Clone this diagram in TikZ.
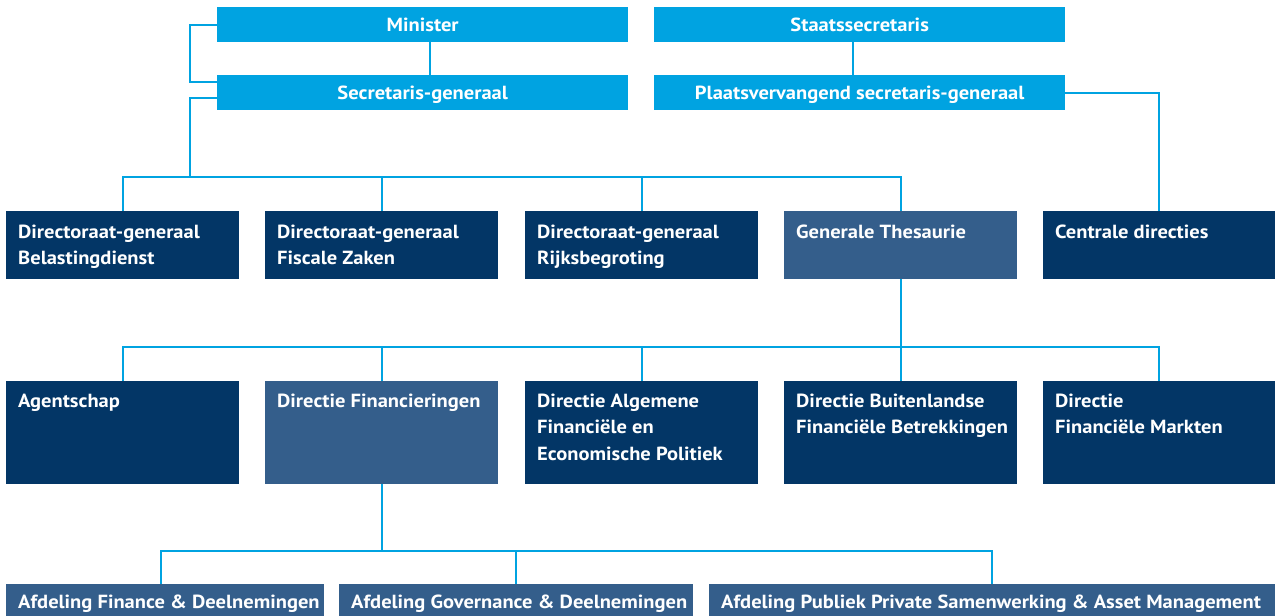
\documentclass[tikz,border=0pt]{standalone}
\usepackage{fontspec}
\setmainfont{PT Sans}[FakeStretch=1.08]
\usetikzlibrary{calc}
\definecolor{lb}{RGB}{0,163,225}
\definecolor{navy}{RGB}{3,54,102}
\definecolor{midb}{RGB}{52,94,139}
\newcommand\cellbox[4]{\vbox to #2{\hsize=#1\relax\leftskip=12pt\rightskip=0pt plus 1fil\parindent=0pt\parfillskip=0pt plus 1fil\baselineskip=26.7pt\lineskiplimit=-100pt\lineskip=0pt\rule{0pt}{#3}#4\par\vfil}}
\tikzset{
  boxfont/.style={font=\bfseries\fontsize{19}{22}\selectfont},
  topbox/.style={fill=lb, text=white, boxfont, inner sep=0pt, anchor=north west, minimum width=411pt, minimum height=35pt, text height=13pt, text depth=0pt},
  navybox/.style={fill=navy, text=white, boxfont, inner sep=0pt, anchor=north west},
  midbox/.style={fill=midb, text=white, boxfont, inner sep=0pt, anchor=north west},
  conn/.style={draw=lb, line width=2pt}
}
\begin{document}
\begin{tikzpicture}[x=1pt,y=-1pt]
\useasboundingbox (0,0) rectangle (1275,616);
% top level
\node[topbox] (min) at (217,7) {Minister};
\node[topbox] (sg) at (217,75) {Secretaris-generaal};
\node[topbox] (sts) at (654,7) {Staatssecretaris};
\node[topbox] (psg) at (654,75) {Plaatsvervangend secretaris-generaal};
% second row
\node[navybox] (dgb) at (6,211) {\cellbox{233pt}{68pt}{27pt}{Directoraat-generaal\newline Belastingdienst}};
\node[navybox] (dgf) at (265,211) {\cellbox{233pt}{68pt}{27pt}{Directoraat-generaal\newline Fiscale Zaken}};
\node[navybox] (dgr) at (525,211) {\cellbox{233pt}{68pt}{27pt}{Directoraat-generaal\newline Rijksbegroting}};
\node[midbox] (gt) at (784,211) {\cellbox{233pt}{68pt}{27pt}{Generale Thesaurie}};
\node[navybox] (cd) at (1043,211) {\cellbox{232pt}{68pt}{27pt}{Centrale directies}};
% third row
\node[navybox] (ag) at (6,381) {\cellbox{233pt}{103pt}{26pt}{Agentschap}};
\node[midbox] (df) at (265,381) {\cellbox{233pt}{103pt}{26pt}{Directie Financieringen}};
\node[navybox] (dafe) at (525,381) {\cellbox{233pt}{103pt}{26pt}{Directie Algemene\newline Financiële en\newline Economische Politiek}};
\node[navybox] (dbfb) at (784,381) {\cellbox{233pt}{103pt}{26pt}{Directie Buitenlandse\newline Financiële Betrekkingen}};
\node[navybox] (dfm) at (1043,381) {\cellbox{232pt}{103pt}{26pt}{Directie\newline Financiële Markten}};
% fourth row
\node[midbox] (afd) at (6,584) {\cellbox{318pt}{32pt}{24pt}{Afdeling Finance \& Deelnemingen}};
\node[midbox] (agd) at (339,584) {\cellbox{354pt}{32pt}{24pt}{Afdeling Governance \& Deelnemingen}};
\node[midbox] (app) at (709,584) {\cellbox{566pt}{32pt}{24pt}{Afdeling Publiek Private Samenwerking \& Asset Management}};
% helper coordinates
\coordinate (bk) at (190,82);
\coordinate (bus1) at (190,177);
\coordinate (bus2) at (gt.south |- 0,347);
\coordinate (bus3) at (df.south |- 0,551);
% connectors
\draw[conn] (min.west) -| (bk) -- (sg.west |- bk);
\draw[conn] ($(min.south)+(7,0)$) -- ($(sg.north)+(7,0)$);
\draw[conn] ($(sts.south)+(-7,0)$) -- ($(psg.north)+(-7,0)$);
\draw[conn] (psg.east) -| (cd.north);
\draw[conn] ($(sg.west)+(0,5.5)$) -| (bus1);
\draw[conn] (dgb.north) |- (bus1) -| (gt.north);
\draw[conn] (dgf.north) -- (dgf.north |- bus1);
\draw[conn] (dgr.north) -- (dgr.north |- bus1);
\draw[conn] (gt.south) -- (bus2);
\draw[conn] (ag.north) |- (bus2) -| (dfm.north);
\draw[conn] (df.north) -- (df.north |- bus2);
\draw[conn] (dafe.north) -- (dafe.north |- bus2);
\draw[conn] (dbfb.north) -- (dbfb.north |- bus2);
\draw[conn] (df.south) -- (bus3);
\draw[conn] ($(afd.north)+(-4,0)$) |- (bus3) -| (app.north);
\draw[conn] (agd.north) -- (agd.north |- bus3);
\end{tikzpicture}
\end{document}
